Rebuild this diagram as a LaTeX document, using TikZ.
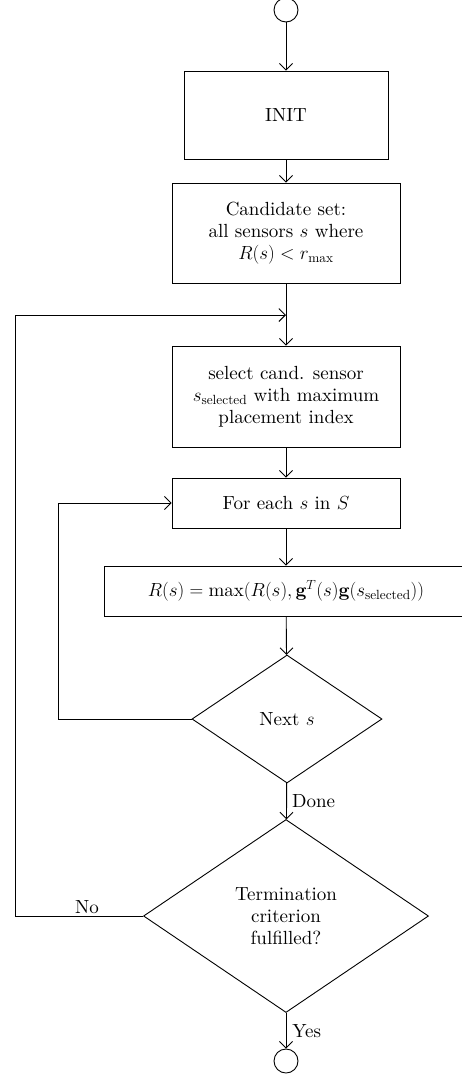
\RequirePackage{fix-cm}
\documentclass[tikz,border=0pt]{standalone}
\usepackage{fontspec}
\setmainfont{lmroman10-regular.otf}[ItalicFont=lmroman10-italic.otf, BoldFont=lmroman10-bold.otf]
\usetikzlibrary{arrows.meta,shapes.geometric}
\begin{document}
\begin{tikzpicture}[x=1pt,y=-1pt, line width=0.9pt, font=\fontsize{19}{22}\selectfont,
  box/.style={draw, rectangle, minimum width=228pt, align=center, inner sep=0pt},
  dec/.style={draw, diamond, inner sep=0pt, align=center},
  termc/.style={draw, circle, minimum size=24pt, inner sep=0pt},
  arr/.style={-{Straight Barb[length=6.5pt,width=13pt]}},
  lbl/.style={inner sep=2pt}]
\useasboundingbox (0,0) rectangle (462,1076);
\node[termc] (start) at (286,10) {};
\node[box, minimum width=204pt, minimum height=88pt] (init) at (286,115) {INIT};
\node[box, minimum height=100pt] (cand) at (286,233) {Candidate set:\\ all sensors $s$ where\\ $R(s) < r_{\max}$};
\coordinate (j1) at (286,315);
\node[box, minimum height=101pt] (sel) at (286,396.5) {select cand. sensor\\ $s_{\mathrm{selected}}$ with maximum\\ placement index};
\node[box, minimum height=50pt] (fe) at (286,503) {For each $s$ in $S$};
\node[box, minimum width=364pt, minimum height=50pt] (rs) at (286,591) {$R(s) = \max(R(s), \mathbf{g}^T(s)\mathbf{g}(s_{\mathrm{selected}}))$};
\node[dec, minimum width=190pt, minimum height=128pt] (nx) at (287,719) {Next $s$};
\node[dec, minimum width=285pt, minimum height=193pt] (tc) at (286,916) {Termination\\ criterion\\ fulfilled?};
\node[termc] (end) at (286,1061) {};
\draw[arr] (start) -- (init);
\draw[arr] (init) -- (cand);
\draw[arr] (cand) -- (sel);
\draw[arr] (sel) -- (fe);
\draw[arr] (fe) -- (rs);
\draw[arr] (rs) -- (nx);
\draw[arr] (nx) -- node[lbl, anchor=west, xshift=3pt] {Done} (tc);
\draw[arr] (tc) -- node[lbl, anchor=west, xshift=4pt] {Yes} (end);
\draw[arr] (nx.west) -- ++(-133,0) |- (fe.west);
\draw[arr] (tc.west) -- node[lbl, anchor=south, pos=0.44] {No} ++(-127.5,0) |- (j1);
\end{tikzpicture}
\end{document}
